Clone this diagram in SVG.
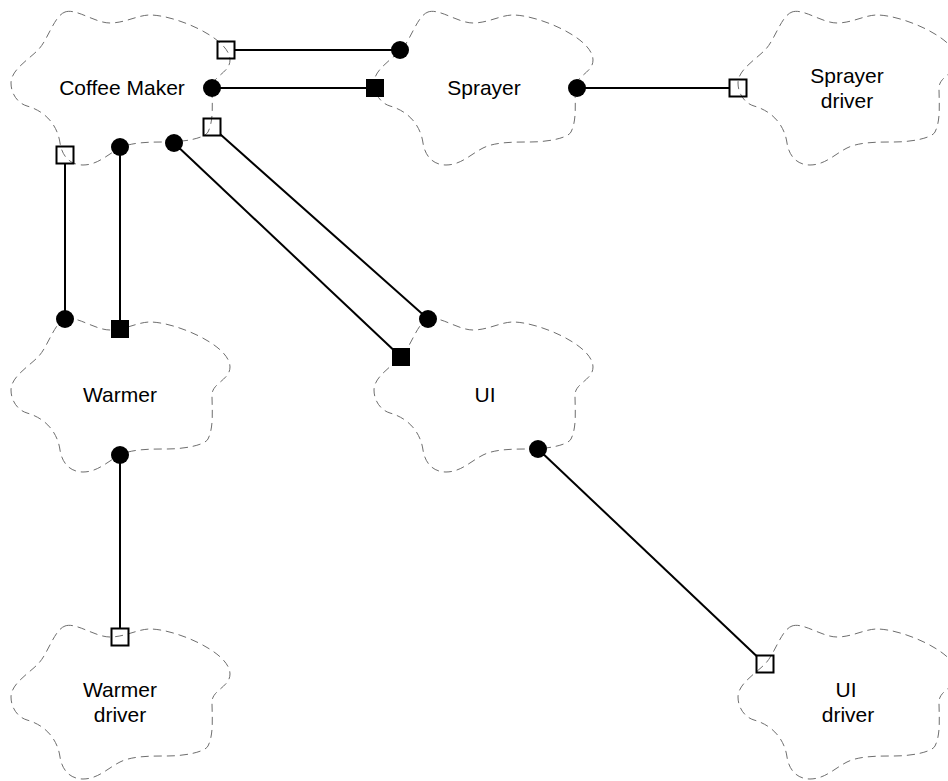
<svg xmlns="http://www.w3.org/2000/svg" xmlns:xlink="http://www.w3.org/1999/xlink" width="948" height="781" viewBox="0 0 948 781">
<style>
.cloud{fill:none;stroke:#6e6e6e;stroke-width:1;stroke-dasharray:8 5}
.lbl{font-family:"Liberation Sans",Arial,sans-serif;font-size:21px;fill:#000;text-anchor:middle}
.wire{stroke:#000;stroke-width:2;fill:none}
.dot{fill:#000}
.fsq{fill:#000}
.osq{fill:none;stroke:#000;stroke-width:2}
</style>
<defs>
<path id="cloud" class="cloud" d="M -55,-76 C -44,-80 -25,-65 -10,-65 C 5,-65 18,-73 30,-73 C 55,-73 110,-50 110,-28 C 110,-15 92,-12 92,0 C 92,14 94,32 88,44 C 85,50 65,54 47,54 C 30,54 12,54 0,60 C -12,66 -22,77 -37,77 C -50,77 -58,68 -60,55 C -62,40 -72,24 -93,18 C -103,15 -109,5 -109,-5 C -109,-18 -92,-28 -82,-38 C -72,-48 -66,-72 -55,-76 Z"/>
</defs>
<rect width="948" height="781" fill="#fff"/>
<g id="coffee-maker">
<use href="#cloud" x="120" y="88"/>
<text class="lbl" x="122" y="95">Coffee Maker</text>
</g>
<g id="sprayer">
<use href="#cloud" x="483" y="88"/>
<text class="lbl" x="484" y="95">Sprayer</text>
</g>
<g id="sprayer-driver">
<use href="#cloud" x="847" y="88"/>
<text class="lbl" x="847" y="83">Sprayer</text>
<text class="lbl" x="847" y="108">driver</text>
</g>
<g id="warmer">
<use href="#cloud" x="120" y="395"/>
<text class="lbl" x="120" y="402">Warmer</text>
</g>
<g id="ui">
<use href="#cloud" x="483" y="395"/>
<text class="lbl" x="485" y="402">UI</text>
</g>
<g id="warmer-driver">
<use href="#cloud" x="120" y="702"/>
<text class="lbl" x="120" y="697">Warmer</text>
<text class="lbl" x="120" y="722">driver</text>
</g>
<g id="ui-driver">
<use href="#cloud" x="847" y="702"/>
<text class="lbl" x="846" y="697">UI</text>
<text class="lbl" x="848" y="722">driver</text>
</g>
<g id="connectors">
<line class="wire" x1="235" y1="50" x2="400" y2="50"/>
<line class="wire" x1="212" y1="88" x2="375" y2="88"/>
<line class="wire" x1="577" y1="88" x2="729.5" y2="88"/>
<line class="wire" x1="65" y1="163.5" x2="65" y2="319"/>
<line class="wire" x1="120" y1="147" x2="120" y2="329"/>
<line class="wire" x1="174" y1="143" x2="401" y2="357"/>
<line class="wire" x1="220.5" y1="134.6" x2="428" y2="319"/>
<line class="wire" x1="120" y1="455" x2="120" y2="628.5"/>
<line class="wire" x1="538" y1="449" x2="756.5" y2="655.9"/>
<rect class="osq" x="217.5" y="41.5" width="17" height="17"/>
<circle class="dot" cx="400" cy="50" r="9"/>
<circle class="dot" cx="212" cy="88" r="9"/>
<rect class="fsq" x="366" y="79" width="18" height="18"/>
<circle class="dot" cx="577" cy="88" r="9"/>
<rect class="osq" x="729.5" y="79.5" width="17" height="17"/>
<rect class="osq" x="56.5" y="146.5" width="17" height="17"/>
<circle class="dot" cx="65" cy="319" r="9"/>
<circle class="dot" cx="120" cy="147" r="9"/>
<rect class="fsq" x="111" y="320" width="18" height="18"/>
<circle class="dot" cx="174" cy="143" r="9"/>
<rect class="fsq" x="392" y="348" width="18" height="18"/>
<rect class="osq" x="203.5" y="118.5" width="17" height="17"/>
<circle class="dot" cx="428" cy="319" r="9"/>
<circle class="dot" cx="120" cy="455" r="9"/>
<rect class="osq" x="111.5" y="628.5" width="17" height="17"/>
<circle class="dot" cx="538" cy="449" r="9"/>
<rect class="osq" x="756.5" y="655.5" width="17" height="17"/>
</g>
</svg>
